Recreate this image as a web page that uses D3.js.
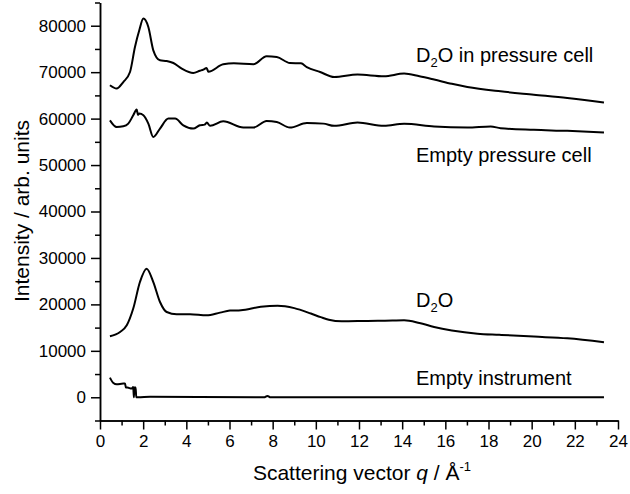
<!DOCTYPE html>
<html>
<head>
<meta charset="utf-8">
<script src="https://cdn.jsdelivr.net/npm/d3@7"></script>
<style>
  body { margin: 0; background: #fff; }
  svg { font-family: "Liberation Sans", Arial, sans-serif; }
  .axis path, .axis line { stroke: #000; stroke-width: 1.5; }
  .axis text { font-size: 17px; fill: #000; }
  .curve { fill: none; stroke: #000; stroke-width: 2; stroke-linejoin: round; }
</style>
</head>
<body>
<div id="root"></div>
<script>
// D2O in pressure cell
const qCell = [0.46, 0.77, 1.08, 1.39, 1.62, 1.82, 2.01, 2.24, 2.47, 2.78, 3.09, 3.40, 3.79, 4.32, 4.63, 4.79, 4.94, 5.02, 5.71, 6.2, 7.11, 7.72, 8.19, 8.80, 9.31, 9.58, 10.2, 10.85, 11.93, 13.16, 14.09, 14.8, 15.48, 16.3, 17.02, 18.56, 20.1, 21.65, 23.35];
const iCell = [67170, 66460, 67880, 70030, 75420, 79010, 81530, 79720, 74700, 72550, 72400, 71970, 70760, 69820, 70300, 70550, 70900, 70100, 71690, 71900, 71690, 73410, 73260, 71970, 71900, 71110, 70030, 68960, 69480, 69120, 69700, 69100, 68400, 67500, 66820, 65870, 65150, 64430, 63480];

// Empty pressure cell
const qEmptyCell = [0.46, 0.77, 1.08, 1.31, 1.54, 1.70, 1.76, 1.82, 2.01, 2.24, 2.47, 2.78, 3.17, 3.48, 3.86, 4.32, 4.63, 4.85, 4.95, 5.10, 5.71, 6.64, 7.11, 7.72, 8.19, 8.80, 9.58, 10.35, 10.85, 11.93, 13.16, 14.09, 15.48, 17.02, 18.1, 18.56, 20.1, 21.65, 23.35];
const iEmptyCell = [59630, 58200, 58340, 58920, 60710, 61940, 60800, 61080, 60710, 58920, 56040, 57850, 60000, 60000, 58560, 57850, 58560, 58700, 59160, 58440, 59420, 58060, 58060, 59480, 59270, 58060, 59050, 58920, 58440, 59160, 58440, 58870, 58300, 58080, 58300, 57940, 57580, 57360, 56990];

// D2O
const qD2O = [0.46, 0.93, 1.24, 1.54, 1.85, 2.16, 2.47, 2.78, 3.09, 3.55, 4.17, 4.94, 5.56, 6.02, 6.53, 7.45, 8.23, 9.0, 9.77, 10.23, 10.6, 11.2, 12.39, 13.2, 14.09, 14.8, 15.48, 16.3, 17.49, 18.5, 20.1, 21.65, 23.35];
const iD2O = [13130, 14060, 15500, 19100, 24820, 27700, 24820, 20520, 18360, 17870, 17870, 17650, 18230, 18660, 18760, 19480, 19700, 19190, 18030, 17250, 16700, 16350, 16450, 16500, 16590, 16000, 15150, 14400, 13700, 13450, 13060, 12700, 11840];

// Empty instrument
const qInstr = [0.46, 0.62, 0.77, 1.08, 1.16, 1.2, 1.27, 1.47, 1.54, 1.57, 1.59, 1.62, 1.65, 1.68, 1.77, 2.32, 7.6, 7.76, 7.9, 23.35];
const iInstr = [4240, 3080, 2800, 2950, 2950, 2100, 2090, 1870, 2220, 0, 2100, 2090, 2090, 0, 0, 100, 0, 300, 0, 0];

const series = [
    { name: "cell", q: qCell, v: iCell },
    { name: "emptyCell", q: qEmptyCell, v: iEmptyCell },
    { name: "d2o", q: qD2O, v: iD2O },
    { name: "instr", q: qInstr, v: iInstr }
];

const xTicks = d3.range(0, 25, 2);
const xMinor = d3.range(1, 24, 2);
const yTicks = d3.range(0, 80001, 10000);
const yMinor = d3.range(-5000, 85001, 10000);

const outerWidth = 630;
const outerHeight = 494;
const margin = { top: 2.5, left: 100 };
const width = 518;
const height = 418;

let scaleX = d3.scaleLinear().domain([0, 24]).range([0, width]);
let scaleY = d3.scaleLinear().domain([-5000, 85000]).range([height, 0]);

let svg = d3.select("#root")
    .append("svg")
    .attr("width", outerWidth)
    .attr("height", outerHeight);

let chart = svg.append("g")
    .attr("transform", `translate(${margin.left}, ${margin.top})`);

// minor ticks first, then major axes on top
chart.append("g")
    .attr("class", "axis")
    .attr("transform", `translate(0, ${height})`)
    .call(d3.axisBottom(scaleX).tickValues(xMinor).tickSize(5).tickSizeOuter(0).tickFormat(""));

chart.append("g")
    .attr("class", "axis")
    .call(d3.axisLeft(scaleY).tickValues(yMinor).tickSize(5).tickSizeOuter(0).tickFormat(""));

chart.append("g")
    .attr("class", "x axis")
    .attr("transform", `translate(0, ${height})`)
    .call(d3.axisBottom(scaleX).tickValues(xTicks).tickSize(9).tickSizeOuter(0).tickPadding(5).tickFormat(d3.format("d")));

chart.append("g")
    .attr("class", "y axis")
    .call(d3.axisLeft(scaleY).tickValues(yTicks).tickSize(9).tickSizeOuter(0).tickPadding(5).tickFormat(d3.format("d")));

let line = d3.line()
    .x(d => scaleX(d[0]))
    .y(d => scaleY(d[1]))
    .curve(d3.curveMonotoneX);

series.forEach(s => {
    chart.append("path")
        .datum(s.q.map((q, i) => [q, s.v[i]]))
        .attr("class", "curve " + s.name)
        .attr("d", line);
});

// curve labels
function label(x, y, parts) {
    let t = svg.append("text")
        .attr("x", x)
        .attr("y", y)
        .style("font-size", "20px");
    parts.forEach(p => {
        let sp = t.append("tspan").text(p.text);
        if (p.sub) sp.attr("dy", 5).style("font-size", "13px");
        if (p.after) sp.attr("dy", -5);
    });
}

label(416, 62, [{ text: "D" }, { text: "2", sub: true }, { text: "O in pressure cell", after: true }]);
label(416, 162, [{ text: "Empty pressure cell" }]);
label(416, 307, [{ text: "D" }, { text: "2", sub: true }, { text: "O", after: true }]);
label(416, 385, [{ text: "Empty instrument" }]);

// axis titles
svg.append("text")
    .attr("transform", "translate(29, 211) rotate(-90)")
    .style("text-anchor", "middle")
    .style("font-size", "21px")
    .text("Intensity / arb. units");

let xt = svg.append("text")
    .attr("x", 362)
    .attr("y", 480)
    .style("text-anchor", "middle")
    .style("font-size", "21px");
xt.append("tspan").text("Scattering vector ");
xt.append("tspan").style("font-style", "italic").text("q");
xt.append("tspan").text(" / Å");
xt.append("tspan").attr("dy", -9).style("font-size", "13px").text("-1");
</script>
</body>
</html>
